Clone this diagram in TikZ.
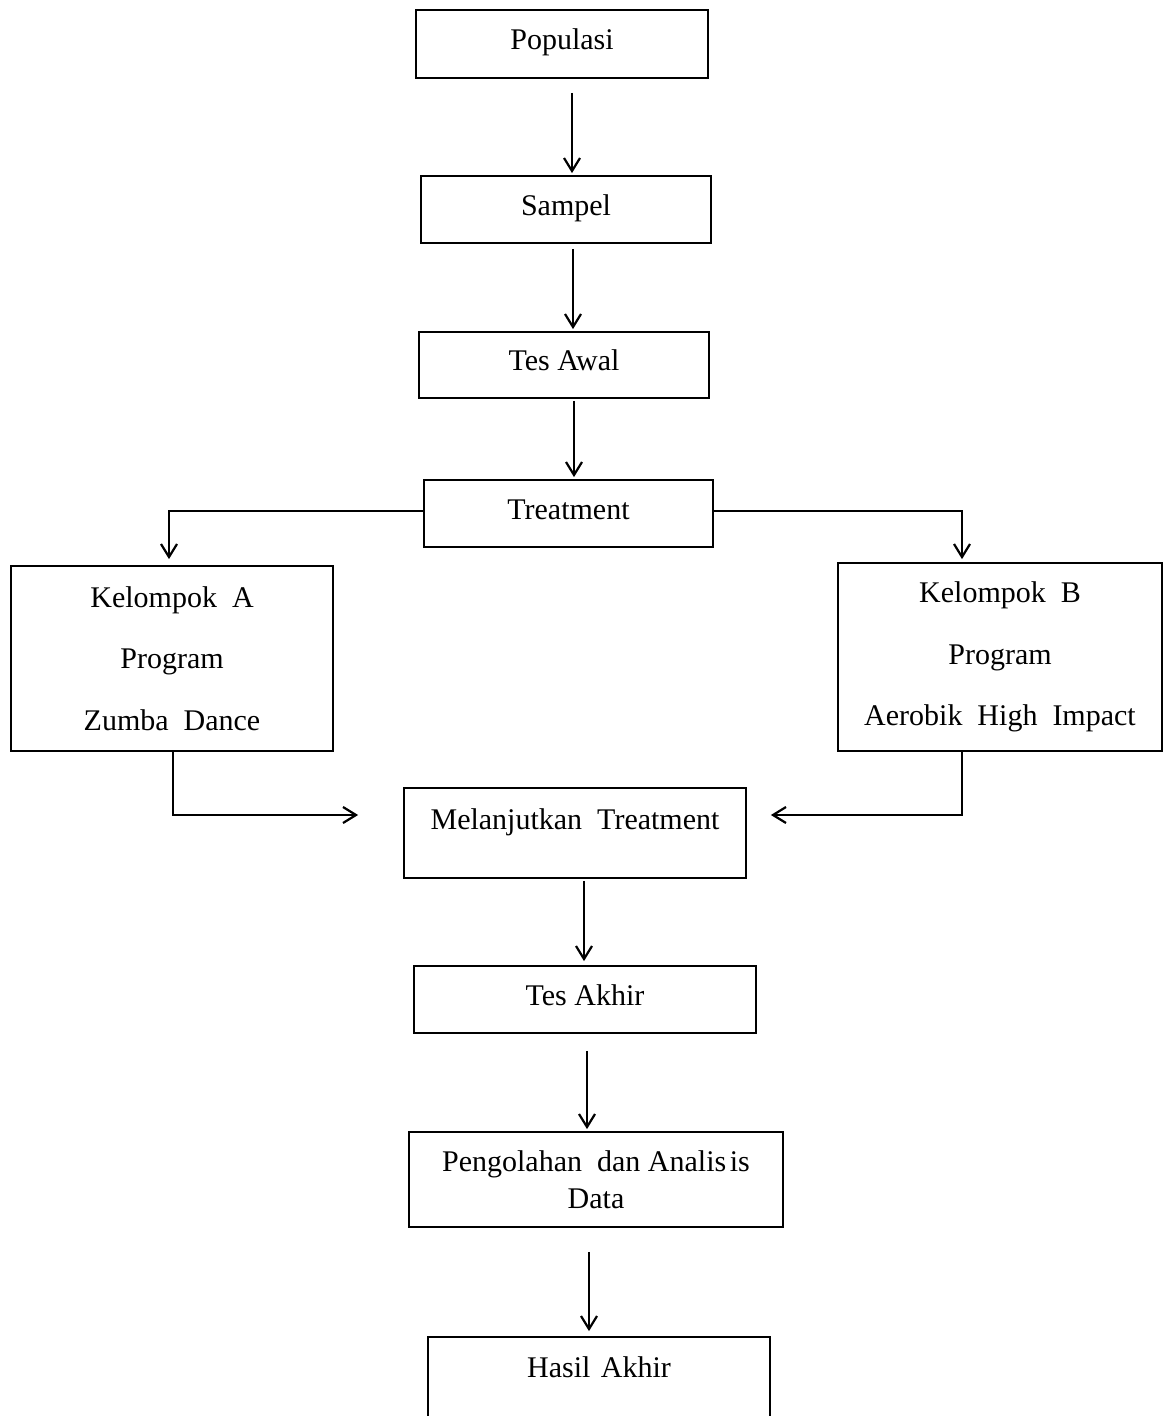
\documentclass[tikz,border=0pt]{standalone}
\usepackage{fontspec}
\setmainfont{Liberation Serif}
\usetikzlibrary{arrows.meta}
\tikzset{
  box/.style={draw, line width=0.9pt, inner sep=0pt, rectangle,
    font=\fontsize{15pt}{18.5pt}\selectfont, text height=10.5pt, text depth=4.5pt},
  tallbox/.style={draw, line width=0.9pt, inner sep=0pt, rectangle,
    align=center, font=\fontsize{15pt}{30.75pt}\selectfont},
  twobox/.style={draw, line width=0.9pt, inner sep=0pt, rectangle,
    align=center, font=\fontsize{15pt}{18.5pt}\selectfont},
  arr/.style={draw, line width=1.1pt, -{Straight Barb[length=6.5pt,width=8pt]}}
}
\newcommand{\ws}{\hspace{0.5em}}
\begin{document}
\begin{tikzpicture}[x=0.5pt,y=-0.5pt]
\useasboundingbox (0,0) rectangle (1165,1416);
\clip (0,0) rectangle (1165,1416);

\node[box, minimum width=146pt, minimum height=34pt] (pop) at (562,44) {Populasi};
\node[box, minimum width=145pt, minimum height=33.5pt] (samp) at (566,209.5) {Sampel};
\node[box, minimum width=145pt, minimum height=33pt] (awal) at (564,365) {Tes Awal};
\node[box, minimum width=144.5pt, minimum height=33.5pt] (treat) at (568.5,513.5) {Treatment};
\node[tallbox, minimum width=161pt, minimum height=92.5pt] (ka) at (172,658.5)
  {Kelompok\ws A\\Program\\Zumba\ws Dance};
\node[tallbox, minimum width=162pt, minimum height=94pt] (kb) at (1000,657)
  {Kelompok\ws B\\Program\\Aerobik\ws High\ws Impact};
\node[box, minimum width=171pt, minimum height=45pt, text depth=14.5pt] (lanjut) at (575,833)
  {Melanjutkan\ws Treatment};
\node[box, minimum width=171pt, minimum height=33.5pt] (akhir) at (585,999.5) {Tes Akhir};
\node[twobox, minimum width=187pt, minimum height=47.5pt] (olah) at (596,1179.5)
  {Pengolahan\ws dan Analis\hspace{0.12em}is\\Data};
\node[box, minimum width=171pt, minimum height=51.5pt, text depth=22pt] (hasil) at (599,1388.5)
  {Hasil\hspace{0.35em}Akhir};

% vertical arrows
\draw[arr, shorten <=7pt, shorten >=1pt] ([xshift=5pt]pop.south) -- ([xshift=5pt]pop.south |- samp.north);
\draw[arr, shorten <=2.5pt, shorten >=1pt] ([xshift=3.5pt]samp.south) -- ([xshift=3.5pt]samp.south |- awal.north);
\draw[arr, shorten <=1pt, shorten >=1pt] ([xshift=5pt]awal.south) -- ([xshift=5pt]awal.south |- treat.north);

% branches
\draw[arr, shorten >=3pt] ([yshift=1.25pt]treat.west) -| ([xshift=-1.5pt]ka.north);
\draw[arr, shorten >=1.5pt] ([yshift=1.25pt]treat.east) -| ([xshift=-19pt]kb.north);

% merge
\draw[arr, shorten >=22.5pt] ([xshift=0.5pt]ka.south) |- ([yshift=9pt]lanjut.west);
\draw[arr, shorten >=12pt] ([xshift=-19pt]kb.south) |- ([yshift=9pt]lanjut.east);

\draw[arr, shorten <=1pt, shorten >=2pt] ([xshift=4.5pt]lanjut.south) -- ([xshift=4.5pt]lanjut.south |- akhir.north);
\draw[arr, shorten <=8.5pt, shorten >=1pt] ([xshift=1pt]akhir.south) -- ([xshift=1pt]akhir.south |- olah.north);
\draw[arr, shorten <=12pt, shorten >=2.5pt] ([xshift=-3.5pt]olah.south) -- ([xshift=-3.5pt]olah.south |- hasil.north);
\end{tikzpicture}
\end{document}
